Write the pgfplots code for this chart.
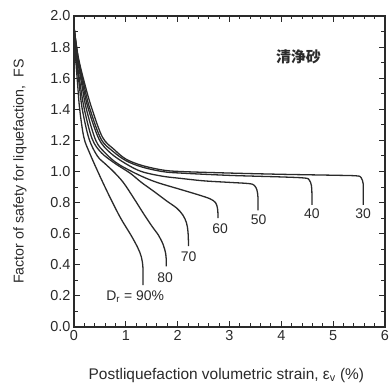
\documentclass[border=0pt]{standalone}
\usepackage{fontspec}
\setmainfont{Liberation Sans}
\newfontfamily\cjk{Noto Sans CJK JP}
\usepackage{pgfplots}
\pgfplotsset{compat=1.18}
\definecolor{ink}{HTML}{2A2A2A}
\pgfplotsset{curve/.style={draw=ink, line width=1.3bp, no markers, smooth, tension=0.55}}
\begin{document}
\begin{tikzpicture}[x=1bp,y=1bp]
\path[use as bounding box] (0,0) rectangle (390,387);
\begin{axis}[
  at={(74bp,60bp)}, anchor=south west,
  scale only axis, width=311bp, height=311bp,
  xmin=0, xmax=6, ymin=0, ymax=2,
  xtick={0,1,2,3,4,5,6},
  ytick={0,0.2,0.4,0.6,0.8,1.0,1.2,1.4,1.6,1.8,2.0},
  minor x tick num=4, minor y tick num=1,
  tick align=inside,
  major tick length=6bp, minor tick length=3.5bp,
  axis line style={ink, line width=1.2bp},
  every tick/.style={ink, line width=1bp},
  /pgf/number format/assume math mode=true,
  yticklabel style={/pgf/number format/.cd, fixed, fixed zerofill, precision=1},
  tick label style={font=\fontsize{14.5}{17}\selectfont, color=ink},
  xlabel={Postliquefaction volumetric strain, ε\textsubscript{v} (\%)},
  ylabel={Factor of safety for liquefaction,\ \ FS},
  xlabel style={font=\fontsize{15.5}{18}\selectfont, color=ink, at={(axis description cs:0.49,-0.155)}, anchor=center},
  ylabel style={font=\fontsize{14.3}{17}\selectfont, color=ink, at={(axis description cs:-0.174,0.5)}, anchor=center},
  clip=false,
]
% Dr = 90%
\addplot[curve] coordinates {(0,1.93) (0.03,1.74) (0.07,1.56) (0.11,1.40) (0.19,1.22) (0.3,1.12) (0.5,0.97) (0.7,0.83) (0.9,0.70) (1.1,0.59) (1.23,0.51) (1.30,0.45) (1.33,0.38) (1.33,0.27)};
% 80
\addplot[curve] coordinates {(0,1.93) (0.04,1.73) (0.10,1.56) (0.16,1.40) (0.29,1.21) (0.45,1.10) (0.6,1.05) (0.76,1.0) (0.95,0.93) (1.15,0.83) (1.34,0.73) (1.5,0.65) (1.63,0.59) (1.72,0.53) (1.77,0.47) (1.78,0.42) (1.78,0.39)};
% 70
\addplot[curve] coordinates {(0,1.93) (0.05,1.73) (0.12,1.56) (0.20,1.40) (0.35,1.21) (0.53,1.12) (0.8,1.05) (1.08,0.99) (1.3,0.93) (1.55,0.87) (1.79,0.81) (1.98,0.765) (2.1,0.72) (2.17,0.67) (2.20,0.61) (2.21,0.52)};
% 60
\addplot[curve] coordinates {(0,1.93) (0.06,1.74) (0.15,1.56) (0.24,1.40) (0.42,1.20) (0.6,1.12) (0.8,1.06) (1.0,1.02) (1.3,0.97) (1.6,0.93) (2.05,0.885) (2.4,0.85) (2.62,0.825) (2.73,0.80) (2.77,0.76) (2.78,0.70)};
% 50
\addplot[curve] coordinates {(0,1.93) (0.07,1.74) (0.17,1.56) (0.27,1.41) (0.48,1.21) (0.7,1.12) (1.0,1.05) (1.3,1.0) (1.7,0.97) (2.05,0.956) (2.5,0.94) (3.0,0.93) (3.38,0.922) (3.48,0.91) (3.53,0.88) (3.55,0.83) (3.55,0.75)};
% 40
\addplot[curve] coordinates {(0,1.93) (0.075,1.74) (0.19,1.56) (0.30,1.41) (0.52,1.21) (0.75,1.13) (1.0,1.07) (1.3,1.03) (1.7,1.0) (2.05,0.99) (3.0,0.975) (4.0,0.965) (4.45,0.958) (4.54,0.945) (4.58,0.91) (4.59,0.86) (4.59,0.785)};
% 30
\addplot[curve] coordinates {(0,1.93) (0.08,1.74) (0.21,1.56) (0.34,1.41) (0.55,1.22) (0.78,1.14) (1.0,1.08) (1.3,1.04) (1.7,1.01) (2.05,1.0) (3.0,0.99) (4.0,0.982) (5.0,0.976) (5.45,0.972) (5.54,0.96) (5.58,0.92) (5.58,0.86) (5.58,0.785)};
\begin{scope}[every node/.style={font=\fontsize{14}{16}\selectfont, text=ink}]
\node at (axis cs:1.18,0.195) {D\textsubscript{r} = 90\%};
\node at (axis cs:1.76,0.32) {80};
\node at (axis cs:2.21,0.45) {70};
\node at (axis cs:2.82,0.635) {60};
\node at (axis cs:3.56,0.69) {50};
\node at (axis cs:4.59,0.73) {40};
\node at (axis cs:5.58,0.73) {30};
\node[fill=white, inner sep=3bp] at (axis cs:4.33,1.74) {\cjk\bfseries\fontsize{15}{18}\selectfont 清浄砂};
\end{scope}
\end{axis}
\end{tikzpicture}
\end{document}
